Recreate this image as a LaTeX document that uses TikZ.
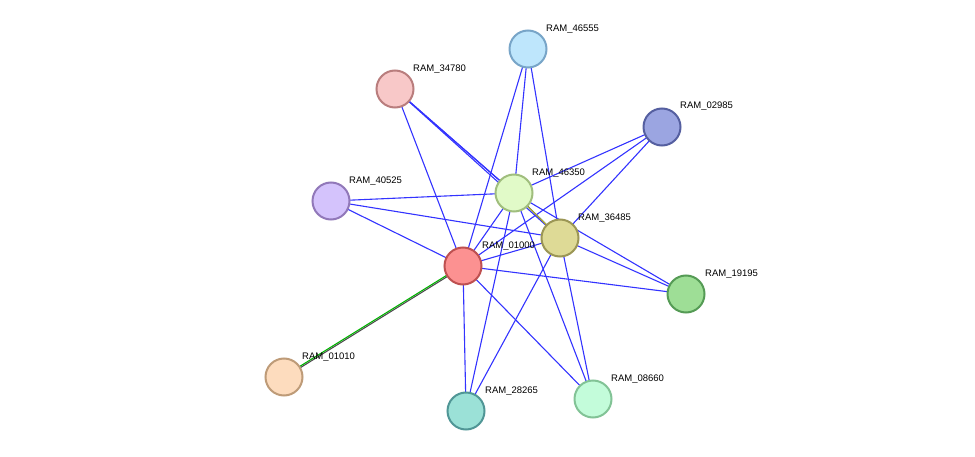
\documentclass[tikz,border=0pt]{standalone}
\usepackage{fontspec}
\setsansfont{Liberation Sans}
\begin{document}
\begin{tikzpicture}[x=1pt,y=-1pt,
  prot/.style={draw,circle,line width=2pt,minimum size=37pt,inner sep=0pt},
  lbl/.style={font=\sffamily\fontsize{9.5}{11}\selectfont,anchor=south west,inner sep=0pt},
  link/.style={draw=blue!80!white,line width=1.1pt}]
\useasboundingbox (0,0) rectangle (975,457);
% coordinates
\coordinate (c46555) at (528,49);
\coordinate (c34780) at (395,89);
\coordinate (c02985) at (662,127);
\coordinate (c40525) at (331,201);
\coordinate (c46350) at (514,193);
\coordinate (c36485) at (560,238);
\coordinate (c01000) at (463,266);
\coordinate (c19195) at (686,294);
\coordinate (c01010) at (284,377);
\coordinate (c28265) at (466,411);
\coordinate (c08660) at (593,399);
% edges
\foreach \a/\b in {34780/01000,34780/36485,46555/01000,46555/46350,46555/36485,
  02985/46350,02985/01000,02985/36485,40525/46350,40525/36485,40525/01000,
  46350/01000,46350/19195,46350/28265,46350/08660,36485/01000,36485/19195,
  36485/28265,36485/08660,01000/19195,01000/28265,01000/08660}
  \draw[link] (c\a) -- (c\b);
\draw[link] ([xshift=-1pt,yshift=1pt]c34780) -- ([xshift=-1pt,yshift=1pt]c46350);
\draw[link] ([xshift=1pt,yshift=-1pt]c34780) -- ([xshift=1pt,yshift=-1pt]c46350);
\draw[green!70!black,line width=1pt] ([xshift=-2pt,yshift=2pt]c46350) -- ([xshift=-2pt,yshift=2pt]c36485);
\draw[link] ([xshift=-0.7pt,yshift=0.7pt]c46350) -- ([xshift=-0.7pt,yshift=0.7pt]c36485);
\draw[black!70,line width=1pt] ([xshift=0.7pt,yshift=-0.7pt]c46350) -- ([xshift=0.7pt,yshift=-0.7pt]c36485);
\draw[yellow!70!black,line width=1pt] ([xshift=2pt,yshift=-2pt]c46350) -- ([xshift=2pt,yshift=-2pt]c36485);
\draw[black!70,line width=1.1pt] ([xshift=-0.8pt,yshift=-1.3pt]c01000) -- ([xshift=-0.8pt,yshift=-1.3pt]c01010);
\draw[green!70!black,line width=1.1pt] ([xshift=0.8pt,yshift=1.3pt]c01000) -- ([xshift=0.8pt,yshift=1.3pt]c01010);
% nodes and labels
\node[prot,draw={rgb,255:red,120;green,165;blue,200},fill={rgb,255:red,190;green,230;blue,252}] (n46555) at (c46555) {};
\node[lbl] (l46555) at (546,34) {RAM\_46555};
\node[prot,draw={rgb,255:red,185;green,125;blue,125},fill={rgb,255:red,248;green,200;blue,200}] (n34780) at (c34780) {};
\node[lbl] (l34780) at (413,74) {RAM\_34780};
\node[prot,draw={rgb,255:red,85;green,95;blue,160},fill={rgb,255:red,155;green,165;blue,225}] (n02985) at (c02985) {};
\node[lbl] (l02985) at (680,111) {RAM\_02985};
\node[prot,draw={rgb,255:red,145;green,120;blue,185},fill={rgb,255:red,212;green,195;blue,252}] (n40525) at (c40525) {};
\node[lbl] (l40525) at (349,186) {RAM\_40525};
\node[prot,draw={rgb,255:red,160;green,190;blue,125},fill={rgb,255:red,225;green,250;blue,200}] (n46350) at (c46350) {};
\node[lbl] (l46350) at (532,178) {RAM\_46350};
\node[prot,draw={rgb,255:red,190;green,80;blue,80},fill={rgb,255:red,252;green,145;blue,145}] (n01000) at (c01000) {};
\node[lbl] (l01000) at (482,251) {RAM\_01000};
\node[prot,draw={rgb,255:red,155;green,150;blue,85},fill={rgb,255:red,222;green,218;blue,150}] (n36485) at (c36485) {};
\node[lbl] (l36485) at (578,223) {RAM\_36485};
\node[prot,draw={rgb,255:red,85;green,155;blue,85},fill={rgb,255:red,158;green,222;blue,150}] (n19195) at (c19195) {};
\node[lbl] (l19195) at (705,279) {RAM\_19195};
\node[prot,draw={rgb,255:red,190;green,155;blue,120},fill={rgb,255:red,253;green,220;blue,190}] (n01010) at (c01010) {};
\node[lbl] (l01010) at (302,362) {RAM\_01010};
\node[prot,draw={rgb,255:red,80;green,150;blue,150},fill={rgb,255:red,155;green,225;blue,215}] (n28265) at (c28265) {};
\node[lbl] (l28265) at (485,396) {RAM\_28265};
\node[prot,draw={rgb,255:red,130;green,195;blue,150},fill={rgb,255:red,195;green,252;blue,218}] (n08660) at (c08660) {};
\node[lbl] (l08660) at (611,384) {RAM\_08660};
\end{tikzpicture}
\end{document}
